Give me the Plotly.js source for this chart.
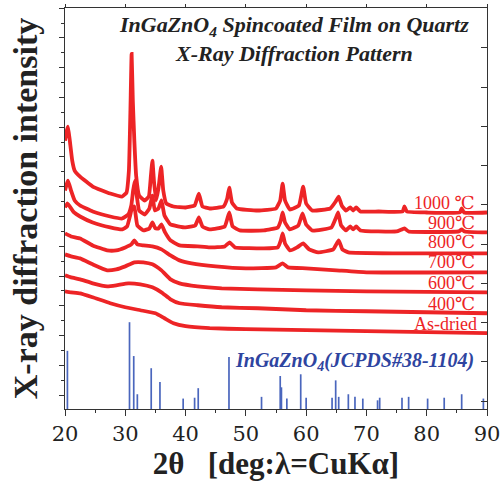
<!DOCTYPE html>
<html><head><meta charset="utf-8">
<script src="https://cdn.plot.ly/plotly-3.0.1.min.js"></script>
<style>html,body{margin:0;padding:0;background:#fff}</style>
</head><body>
<div id="chart" style="width:502px;height:483px"></div>
<script>
// ---- data (intensity in arbitrary units) ----
const sampleNames = ["1000 ℃","900℃","800℃","700℃","600℃","400℃","As-dried"];

const t1000 = [20.0,20.3,20.5,20.8,21.2,21.6,22.5,24.6,27.5,29.5,30.2,30.6,30.85,31.05,31.25,31.5,31.8,32.3,33.2,33.9,34.25,34.5,34.75,35.1,35.5,35.95,36.3,36.8,38.0,40.0,41.5,42.2,42.8,44.0,46.3,46.9,47.25,47.7,48.5,52.0,55.0,55.7,56.1,56.5,57.3,58.8,59.5,60.0,61.0,64.0,64.9,65.4,65.9,66.6,67.3,67.8,68.3,69.0,72.0,76.0,76.3,76.7,80.0,85.5,85.8,86.2,90.0];
const i1000 = [269,279,283,269,249,239,233,223,216,213,217,239,299,356,309,269,234,214,209,213,234,249,229,209,221,243,219,206,203,202,204,216,203,201,203,211,222,207,201,199,201,209,226,209,200,204,223,206,199,201,208,213,204,199,202,199,202,198,198,198,203,198,197,197,201,197,197];

const t900 = [20.0,20.5,21.0,21.6,22.5,24.6,27.5,29.5,30.5,31.0,31.3,31.6,31.9,32.3,33.2,34.0,34.5,34.9,35.5,36.0,36.5,37.5,40.0,41.6,42.2,42.8,44.0,46.5,47.25,47.8,49.0,53.0,55.3,55.8,56.1,56.5,57.3,58.7,59.4,60.0,61.0,64.2,64.9,65.3,65.8,66.6,67.3,67.8,68.3,69.0,75.0,76.3,77.0,85.3,85.8,86.3,90.0];
const i900 = [219,229,219,209,204,198,193,191,195,204,219,229,214,199,195,201,214,199,201,209,194,185,182,184,192,183,180,183,197,183,179,179,182,189,197,187,180,184,196,185,179,182,191,197,184,179,183,180,183,179,178,181,178,178,180,178,177];

const t800 = [20.0,20.4,21.5,22.5,24.6,27.5,29.5,30.3,30.8,31.1,31.5,32.0,33.0,34.0,34.5,35.0,35.5,36.0,36.6,37.5,39.0,42.0,44.0,46.5,47.3,48.2,53.0,55.3,55.8,56.1,56.5,57.3,58.5,59.5,60.5,62.0,64.5,65.4,66.0,67.0,75.0,90.0];
const i800 = [202,206,197,193,187,182,180,183,194,201,203,184,179,181,187,181,181,185,177,169,164,163,162,163,167,162,161,162,169,176,166,159,162,166,160,157,160,169,160,157,156,156];

const t700 = [20.0,21.0,22.5,24.6,27.0,28.5,30.0,31.0,31.5,32.0,33.0,34.5,36.0,37.5,39.0,41.0,45.0,50.0,55.0,56.1,57.0,60.0,65.0,70.0,90.0];
const i700 = [176,173,171,164,159,159,162,165,169,165,164,163,160,154,149,146,143,141,142,146,142,141,139,137,137];

const t600 = [20.0,21.0,22.5,24.6,27.0,28.5,30.0,31.5,33.0,34.5,36.0,37.5,39.0,42.0,46.0,52.0,60.0,70.0,90.0];
const i600 = [155,153,151,145,139,140,143,147,147,145,139,130,126,123,121,120,119,118,117];

const t400 = [20.0,21.0,22.5,24.6,27.0,28.5,30.5,32.5,34.5,36.0,37.5,39.0,42.0,46.0,52.0,60.0,70.0,90.0];
const i400 = [134,132,130,126,123,124,126,125,122,117,110,106,104,102,101,99,98,96];

const tDried = [20.0,21.0,22.5,24.6,27.5,30.0,32.5,35.0,36.5,38.0,40.0,44.0,50.0,60.0,70.0,90.0];
const iDried = [118,117,116,112,106,102,99,96,91,86,83,81,80,79,78,76];

// JCPDS #38-1104 reference lines (2θ, relative intensity)
const jcpdsTheta = [20.4,30.7,31.4,32.0,34.3,35.75,39.6,41.5,42.1,47.2,52.6,55.7,55.9,56.8,59.1,60.0,64.3,64.9,65.4,67.0,68.1,69.4,71.85,72.2,75.9,77.0,80.15,82.9,85.8,89.4];
const jcpdsRel   = [67,100,61,17,47,31,12,13,24,60,14,38,25,12,40,13,13,33,14,17,14,12,10,13,13,14,12,13,17,12];

const xTicks = [20,30,40,50,60,70,80,90];

// ---- build traces ----
const RED = "rgb(237,36,38)";
const series = [[t1000,i1000],[t900,i900],[t800,i800],[t700,i700],[t600,i600],[t400,i400],[tDried,iDried]];
const traces = series.map((s,k)=>({
  type:"scatter", mode:"lines", x:s[0], y:s[1], name:sampleNames[k],
  line:{color:RED, width:3.8, shape:"spline", smoothing:0.35},
  hoverinfo:"skip", showlegend:false
}));

const sx=[], sy=[];
jcpdsTheta.forEach((t,i)=>{ sx.push(t,t,null); sy.push(0,jcpdsRel[i],null); });
traces.push({type:"scatter", mode:"lines", x:sx, y:sy, xaxis:"x2", yaxis:"y2",
  line:{color:"#4a66bd", width:1.7}, showlegend:false, hoverinfo:"skip"});

const labelY = [207,186,167,147,126,105,85];
const serif = "Liberation Serif, Times New Roman, DejaVu Serif, serif";
const annotations = sampleNames.map((n,k)=>({
  text:n, xref:"x", yref:"y", x:(k===6?88.75:88.3), y:labelY[k], xanchor:"right", yanchor:"middle",
  showarrow:false, font:{family:serif, size:18, color:RED}
}));
annotations.push({text:"<b><i>InGaZnO<sub>4</sub> Spincoated Film on Quartz</i></b>", xref:"paper", yref:"paper",
  x:0.543, y:0.955, xanchor:"center", yanchor:"middle", showarrow:false, font:{family:serif,size:22,color:"#222"}});
annotations.push({text:"<b><i>X-Ray Diffraction Pattern</i></b>", xref:"paper", yref:"paper",
  x:0.543, y:0.886, xanchor:"center", yanchor:"middle", showarrow:false, font:{family:serif,size:22,color:"#222"}});
annotations.push({text:"<b><i>InGaZnO<sub>4</sub>(JCPDS#38-1104)</i></b>", xref:"paper", yref:"paper",
  x:0.685, y:0.119, xanchor:"center", yanchor:"middle", showarrow:false, font:{family:serif,size:20,color:"#2e44a0"}});

const layout = {
  width:502, height:483,
  margin:{l:65, r:15, t:8, b:74},
  paper_bgcolor:"#fff", plot_bgcolor:"#fff",
  showlegend:false,
  xaxis:{range:[20,90], tickvals:xTicks, ticktext:xTicks.map(String), ticks:"outside", ticklen:6, tickwidth:1,
    tickcolor:"#333", showline:true, linecolor:"#333", linewidth:1, mirror:true, showgrid:false, zeroline:false,
    minor:{dtick:5, tick0:20, ticks:"outside", ticklen:3, tickcolor:"#333"},
    tickfont:{family:"DejaVu Serif, serif", size:21, color:"#222"},
    title:{text:"<b>2θ   [deg:λ=CuKα]</b>", font:{family:serif, size:31, color:"#222"}, standoff:6}},
  xaxis2:{range:[20,90], overlaying:"x", side:"top", tickvals:xTicks, ticks:"outside", ticklen:3, tickcolor:"#333",
    showticklabels:false, showgrid:false, zeroline:false, showline:false},
  yaxis:{range:[0,402], ticks:"outside", tick0:14, dtick:29.83, ticklen:5, tickcolor:"#333",
    minor:{tick0:-0.9, dtick:29.83, ticks:"outside", ticklen:3, tickcolor:"#333"},
    showticklabels:false, showline:true, linecolor:"#333", linewidth:1.3, mirror:true, showgrid:false, zeroline:false,
    title:{text:"<b>X-ray diffraction intensity</b>", font:{family:serif, size:34, color:"#222"}, standoff:10}},
  yaxis2:{range:[0,462], overlaying:"y", side:"right", ticks:"inside", tick0:9.2, dtick:45.2, ticklen:6, tickcolor:"#333",
    showticklabels:false, showgrid:false, zeroline:false, showline:false},
  annotations:annotations
};
Plotly.newPlot("chart", traces, layout, {staticPlot:true, displayModeBar:false});
</script>
</body></html>
